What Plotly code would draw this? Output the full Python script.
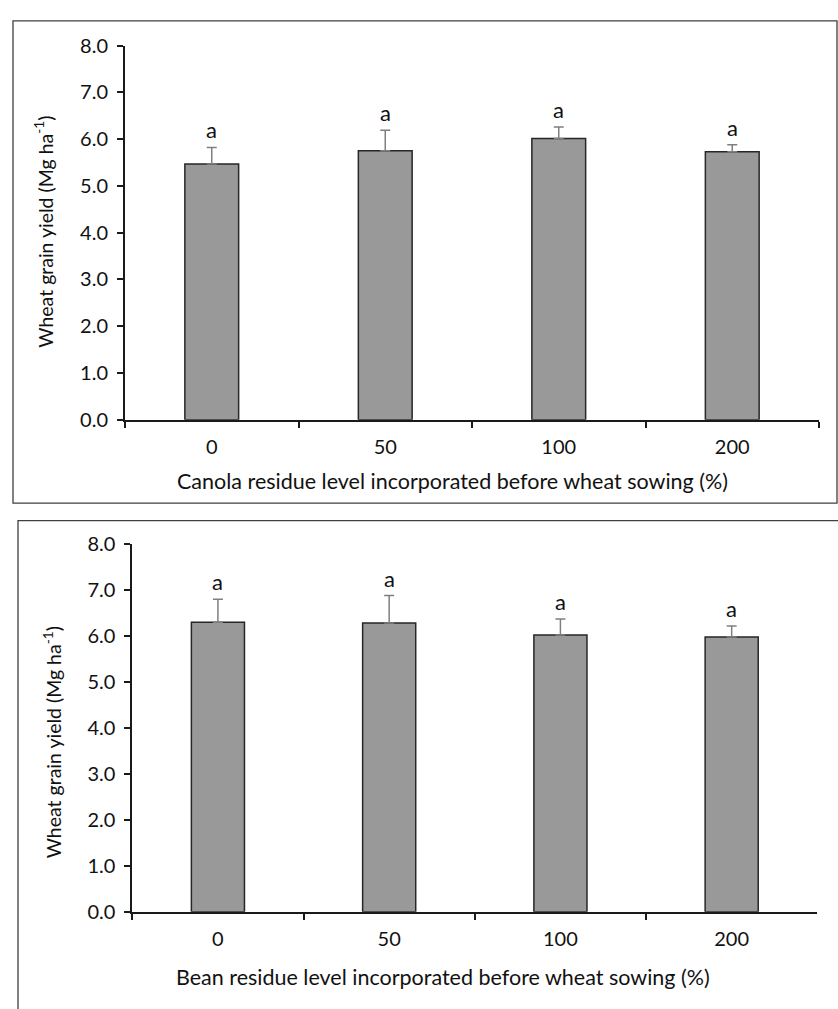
import plotly.graph_objects as go

levels = ["0", "50", "100", "200"]
canola_yield = [5.47, 5.75, 6.01, 5.73]
canola_err = [0.35, 0.44, 0.25, 0.15]
bean_yield = [6.30, 6.28, 6.02, 5.98]
bean_err = [0.50, 0.60, 0.35, 0.24]
canola_letters = ["a", "a", "a", "a"]
bean_letters = ["a", "a", "a", "a"]
y_ticks = [0, 1, 2, 3, 4, 5, 6, 7, 8]
y_ticktext = ["%.1f" % v for v in y_ticks]

W, H = 838, 1009
FONT = "Lato"
TXT = "#111111"

def px(x):
    return x / W

def py(y):
    return (H - y) / H

fig = go.Figure()

panels = [
    dict(yv=canola_yield, err=canola_err, letters=canola_letters, xa="x", ya="y",
         xdom=[px(125), px(819)], ydom=[py(416.7), py(33.3)],
         xtitle="Canola residue level incorporated before wheat sowing (%)",
         xtitle_x=453, xtitle_y=479, ytitle_x=44, ytitle_y=224),
    dict(yv=bean_yield, err=bean_err, letters=bean_letters, xa="x2", ya="y2",
         xdom=[px(132.3), px(817.3)], ydom=[py(920.7), py(544)],
         xtitle="Bean residue level incorporated before wheat sowing (%)",
         xtitle_x=443, xtitle_y=987, ytitle_x=52, ytitle_y=747),
]

annotations = []
for i, p in enumerate(panels):
    fig.add_trace(go.Bar(
        x=levels, y=p["yv"], xaxis=p["xa"], yaxis=p["ya"],
        width=0.31,
        marker=dict(color="#999999", line=dict(color="#262626", width=1.5)),
        error_y=dict(type="data", array=p["err"], arrayminus=[0] * len(p["err"]),
                     symmetric=False, color="#7f7f7f", thickness=1.5, width=5),
        showlegend=False,
    ))
    sfx = "" if i == 0 else "2"
    for k, (yv, e, lt) in enumerate(zip(p["yv"], p["err"], p["letters"])):
        annotations.append(dict(
            x=k, y=yv + e, xref="x" + sfx, yref="y" + sfx, text=lt,
            showarrow=False, yanchor="bottom", yshift=2,
            font=dict(family=FONT, size=22, color=TXT),
        ))
    annotations.append(dict(
        x=px(p["xtitle_x"]), y=py(p["xtitle_y"]),
        xref="paper", yref="paper", text=p["xtitle"], showarrow=False,
        xanchor="center", yanchor="middle",
        font=dict(family=FONT, size=21.5, color=TXT),
    ))
    annotations.append(dict(
        x=px(p["ytitle_x"]), y=py(p["ytitle_y"]), xref="paper", yref="paper",
        text="Wheat grain yield (Mg ha<sup>-1</sup>)", showarrow=False,
        textangle=-90, xanchor="center", yanchor="middle",
        font=dict(family=FONT, size=19.5, color=TXT),
    ))

axis_common_x = dict(
    type="category", tickson="boundaries", ticks="outside", ticklen=6,
    tickwidth=1.5, tickcolor="#1a1a1a", showline=True, linecolor="#1a1a1a",
    linewidth=2, showgrid=False, zeroline=False, ticklabelstandoff=8,
    tickfont=dict(family=FONT, size=20, color=TXT), range=[-0.5, 3.5],
)
axis_common_y = dict(
    range=[0, 8], tickvals=y_ticks, ticktext=y_ticktext, ticks="outside",
    ticklen=6, tickwidth=1.5, tickcolor="#1a1a1a", showline=True,
    linecolor="#1a1a1a", linewidth=2, showgrid=False, zeroline=False,
    ticklabelstandoff=5,
    tickfont=dict(family=FONT, size=20, color=TXT),
)

shapes = [
    dict(type="rect", xref="paper", yref="paper", x0=px(13), x1=px(837),
         y0=py(502), y1=py(8), line=dict(color="#404040", width=1.3)),
    dict(type="rect", xref="paper", yref="paper", x0=px(18), x1=px(870),
         y0=py(1060), y1=py(520), line=dict(color="#404040", width=1.3)),
]

fig.update_layout(
    width=W, height=H, margin=dict(l=0, r=0, t=0, b=0),
    paper_bgcolor="white", plot_bgcolor="white",
    xaxis=dict(domain=panels[0]["xdom"], anchor="y", **axis_common_x),
    yaxis=dict(domain=panels[0]["ydom"], anchor="x", **axis_common_y),
    xaxis2=dict(domain=panels[1]["xdom"], anchor="y2", **axis_common_x),
    yaxis2=dict(domain=panels[1]["ydom"], anchor="x2", **axis_common_y),
    annotations=annotations, shapes=shapes,
)

fig.write_html(
    "out.html",
    config={"displayModeBar": False},
    post_script="document.body.style.margin='0';document.body.style.overflow='hidden';",
)
